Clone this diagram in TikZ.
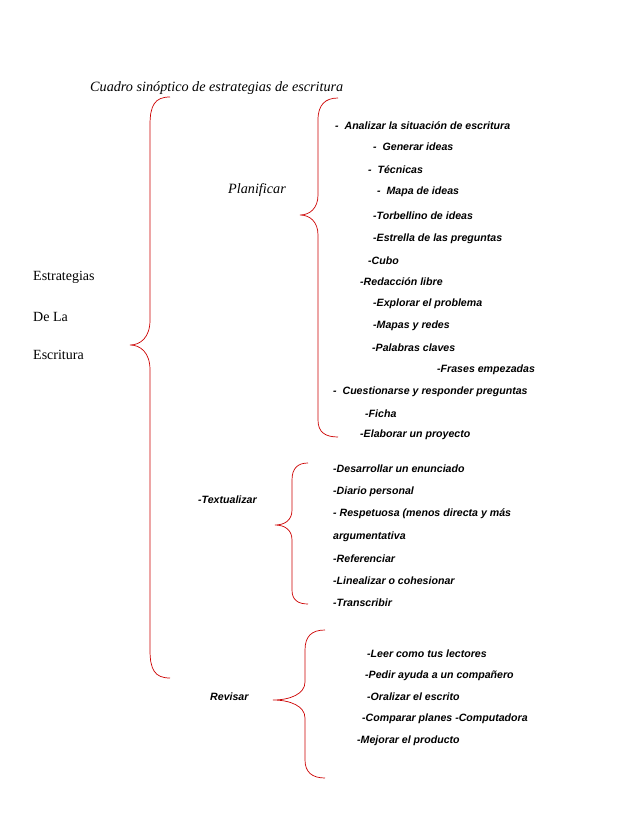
\documentclass[tikz,border=0pt]{standalone}
\usepackage{fontspec}
\setmainfont{Liberation Sans}
\newfontfamily\hand{Liberation Serif}
\begin{document}
\begin{tikzpicture}[x=1pt,y=-1pt,
  it/.style={anchor=west,inner sep=0pt,font=\fontsize{10.6}{12}\selectfont\bfseries\itshape},
  hd/.style={anchor=west,inner sep=0pt,font=\hand\itshape\fontsize{14.2}{16}\selectfont},
  bg/.style={anchor=west,inner sep=0pt,font=\hand\fontsize{14}{16}\selectfont},
  br/.style={draw=red!80!black,line width=0.7pt}]
\useasboundingbox (0,0) rectangle (638,826);
\node[hd] (title) at (90,88) {Cuadro sinóptico de estrategias de escritura};
\node[bg] (e1) at (33,277) {Estrategias};
\node[bg] (e2) at (33,317) {De La};
\node[bg] (e3) at (33,355) {Escritura};
\node[hd] (plan) at (228,190) {Planificar};
\node[it] (tex) at (198,500) {-Textualizar};
\node[it] (rev) at (210,697) {Revisar};
% big brace
\draw[br] (170,97) .. controls (155,97) and (150,105) .. (150,125) -- (150,320)
  .. controls (150,338) and (140,345) .. (130,345)
  .. controls (140,345) and (150,352) .. (150,370) -- (150,650)
  .. controls (150,670) and (155,678) .. (170,678);
% planificar brace
\draw[br] (338,98) .. controls (325,98) and (318,105) .. (318,120) -- (318,195)
  .. controls (318,208) and (310,215) .. (300,215)
  .. controls (310,215) and (318,222) .. (318,235) -- (318,420)
  .. controls (318,432) and (325,437) .. (338,437);
% textualizar brace
\draw[br] (308,463) .. controls (298,463) and (292,468) .. (292,480) -- (292,510)
  .. controls (292,520) and (285,525) .. (275,525)
  .. controls (285,525) and (292,530) .. (292,540) -- (292,590)
  .. controls (292,600) and (298,604) .. (308,604);
% revisar brace
\draw[br] (325,630) .. controls (312,630) and (305,636) .. (305,650) -- (305,682)
  .. controls (305,694) and (290,700) .. (273,700)
  .. controls (290,700) and (305,706) .. (305,718) -- (305,760)
  .. controls (305,772) and (312,778) .. (325,778);
\node[it] (p1) at (335,126) {-\ \ Analizar la situación de escritura};
\node[it] (p2) at (373,147) {-\ \ Generar ideas};
\node[it] (p3) at (368,170) {-\ \ Técnicas};
\node[it] (p4) at (377,192) {-\ \ Mapa de ideas};
\node[it] (p5) at (373,216) {-Torbellino de ideas};
\node[it] (p6) at (373,239) {-Estrella de las preguntas};
\node[it] (p7) at (368,261) {-Cubo};
\node[it] (p8) at (360,282) {-Redacción libre};
\node[it] (p9) at (373,304) {-Explorar el problema};
\node[it] (p10) at (373,326) {-Mapas y redes};
\node[it] (p11) at (372,348) {-Palabras claves};
\node[it] (p12) at (437,370) {-Frases empezadas};
\node[it] (p13) at (333,392) {-\ \ Cuestionarse y responder preguntas};
\node[it] (p14) at (365,414) {-Ficha};
\node[it] (p15) at (360,435) {-Elaborar un proyecto};
\node[it] (t1) at (333,469) {-Desarrollar un enunciado};
\node[it] (t2) at (333,492) {-Diario personal};
\node[it] (t3) at (333,514) {- Respetuosa (menos directa y más};
\node[it] (t4) at (333,537) {argumentativa};
\node[it] (t5) at (333,559) {-Referenciar};
\node[it] (t6) at (333,581) {-Linealizar o cohesionar};
\node[it] (t7) at (333,603) {-Transcribir};
\node[it] (r1) at (367,654) {-Leer como tus lectores};
\node[it] (r2) at (365,676) {-Pedir ayuda a un compañero};
\node[it] (r3) at (367,697) {-Oralizar el escrito};
\node[it] (r4) at (362,719) {-Comparar planes -Computadora};
\node[it] (r5) at (357,741) {-Mejorar el producto};
\end{tikzpicture}
\end{document}
